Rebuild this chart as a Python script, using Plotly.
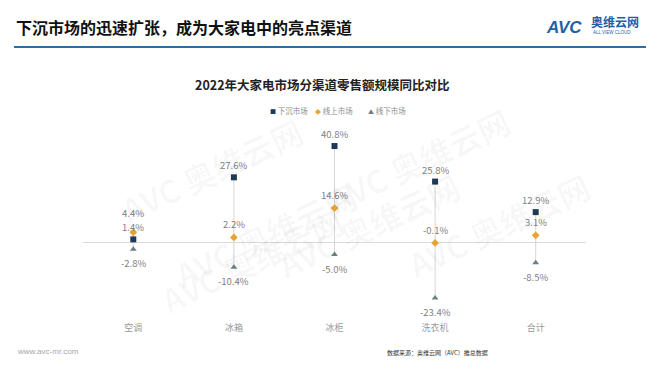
import plotly.graph_objects as go

categories = ["空调", "冰箱", "冰柜", "洗衣机", "合计"]
xiachen = [1.4, 27.6, 40.8, 25.8, 12.9]
xianshang = [4.4, 2.2, 14.6, -0.1, 3.1]
xianxia = [-2.8, -10.4, -5.0, -23.4, -8.5]
series_names = ["下沉市场", "线上市场", "线下市场"]

FONT = "Noto Sans CJK SC"
C_NAVY = "#1F3A56"
C_ORANGE = "#E6A532"
C_GRAY = "#6E7F86"
C_TEXT = "#7F7F7F"

W, H = 660, 372
ML, MR, MT, MB = 83, 74, 129, 63
PW, PH = W - ML - MR, H - MT - MB
YR = [-28, 48]
PPU = PH / (YR[1] - YR[0])  # pixels per unit


def px(x):
    return (x - ML) / PW


def py(y):
    return (H - MB - y) / PH


fig = go.Figure()

# connecting vertical lines (from min to max of each category)
lx, ly = [], []
for i, c in enumerate(categories):
    vals = [xiachen[i], xianshang[i], xianxia[i]]
    lx += [c, c, None]
    ly += [max(vals), min(vals), None]
fig.add_trace(go.Scatter(x=lx, y=ly, mode="lines",
                         line=dict(color="#D6D6D6", width=1),
                         hoverinfo="skip", showlegend=False))


def fmt(v):
    return f"{v:.1f}%"


fig.add_trace(go.Scatter(x=categories, y=xiachen, mode="markers",
                         name=series_names[0], cliponaxis=False,
                         marker=dict(symbol="square", size=6, color=C_NAVY),
                         showlegend=False))
fig.add_trace(go.Scatter(x=categories, y=xianshang, mode="markers",
                         name=series_names[1], cliponaxis=False,
                         marker=dict(symbol="diamond", size=6, color=C_ORANGE),
                         showlegend=False))
fig.add_trace(go.Scatter(x=categories, y=xianxia, mode="markers",
                         name=series_names[2], cliponaxis=False,
                         marker=dict(symbol="triangle-up", size=6, color=C_GRAY),
                         showlegend=False))

annotations = []

# data labels
lab_font = dict(size=9.5, color=C_TEXT, family=FONT)
GAP = 14.5
for i, c in enumerate(categories):
    s_shift = 12
    o_shift = 13
    # avoid collision between the two labels drawn above markers
    y_s = xiachen[i] * PPU + s_shift
    y_o = xianshang[i] * PPU + o_shift
    if abs(y_s - y_o) < GAP:
        if y_o >= y_s:
            o_shift += GAP - (y_o - y_s)
        else:
            s_shift += GAP - (y_s - y_o)
    annotations.append(dict(x=c, y=xiachen[i], text=fmt(xiachen[i]), showarrow=False,
                            yshift=s_shift, font=lab_font, borderpad=0))
    annotations.append(dict(x=c, y=xianshang[i], text=fmt(xianshang[i]), showarrow=False,
                            yshift=o_shift, font=lab_font, borderpad=0))
    annotations.append(dict(x=c, y=xianxia[i], text=fmt(xianxia[i]), showarrow=False,
                            yshift=-14, font=lab_font, borderpad=0))

# watermarks
wm = [(110, 105), (265, 235), (520, 95), (470, 290), (600, 225), (150, 325)]
for (wx, wy) in wm:
    annotations.append(dict(xref="paper", yref="paper", x=px(wx), y=py(wy),
                            text="<b>AVC 奥维云网</b>", showarrow=False, textangle=-25,
                            font=dict(size=32, color="rgba(0,0,0,0.03)", family=FONT)))

# header
annotations.append(dict(xref="paper", yref="paper", x=px(14), y=py(27),
                        xanchor="left", yanchor="middle", showarrow=False,
                        text="<b>下沉市场的迅速扩张，成为大家电中的亮点渠道</b>",
                        font=dict(size=16, color="#111111", family=FONT)))
annotations.append(dict(xref="paper", yref="paper", x=px(544), y=py(27),
                        xanchor="left", yanchor="middle", showarrow=False,
                        text="<b><i>AVC</i></b>",
                        font=dict(size=17, color="#1F5FA8", family="Liberation Sans")))
annotations.append(dict(xref="paper", yref="paper", x=px(589), y=py(22),
                        xanchor="left", yanchor="middle", showarrow=False,
                        text="<b>奥维云网</b>",
                        font=dict(size=12, color="#1F5FA8", family=FONT)))
annotations.append(dict(xref="paper", yref="paper", x=px(591), y=py(33),
                        xanchor="left", yanchor="middle", showarrow=False,
                        text="ALL VIEW CLOUD",
                        font=dict(size=4.5, color="#1F5FA8", family="Liberation Sans")))

# chart title
annotations.append(dict(xref="paper", yref="paper", x=px(322), y=py(84),
                        xanchor="center", yanchor="middle", showarrow=False,
                        text="<b>2022年大家电市场分渠道零售额规模同比对比</b>",
                        font=dict(size=12.5, color="#222222", family=FONT)))

# legend (manual)
leg = [(268, "■", C_NAVY, series_names[0]), (313, "◆", C_ORANGE, series_names[1]),
       (366, "▲", C_GRAY, series_names[2])]
for (lxp, sym, col, nm) in leg:
    annotations.append(dict(xref="paper", yref="paper", x=px(lxp), y=py(111),
                            xanchor="left", yanchor="middle", showarrow=False,
                            text=f"<span style='color:{col};font-size:6px'>{sym}</span> {nm}",
                            font=dict(size=7.5, color="#8C8C8C", family=FONT)))

# footer
annotations.append(dict(xref="paper", yref="paper", x=px(15), y=py(351),
                        xanchor="left", yanchor="middle", showarrow=False,
                        text="www.avc-mr.com",
                        font=dict(size=8, color="#A6A6A6", family="Liberation Sans")))
annotations.append(dict(xref="paper", yref="paper", x=px(490), y=py(352),
                        xanchor="right", yanchor="middle", showarrow=False,
                        text="数据来源：奥维云网（AVC）推总数据",
                        font=dict(size=6, color="#333333", family=FONT)))

shapes = [dict(type="line", xref="paper", yref="paper",
               x0=px(14), x1=px(646), y0=py(47), y1=py(47),
               line=dict(color="#2E6DA4", width=2))]

fig.update_layout(
    width=W, height=H,
    margin=dict(l=ML, r=MR, t=MT, b=MB),
    paper_bgcolor="white", plot_bgcolor="white",
    showlegend=False,
    annotations=annotations, shapes=shapes,
    font=dict(family=FONT),
    xaxis=dict(type="category", range=[-0.5, 4.5], showgrid=False, showline=False,
               zeroline=False, ticks="", ticklabelstandoff=12,
               tickfont=dict(size=9, color="#999999", family=FONT)),
    yaxis=dict(range=YR, showgrid=False, showticklabels=False, showline=False,
               zeroline=True, zerolinecolor="#DADADA", zerolinewidth=1),
)

fig.write_html("out.html")
